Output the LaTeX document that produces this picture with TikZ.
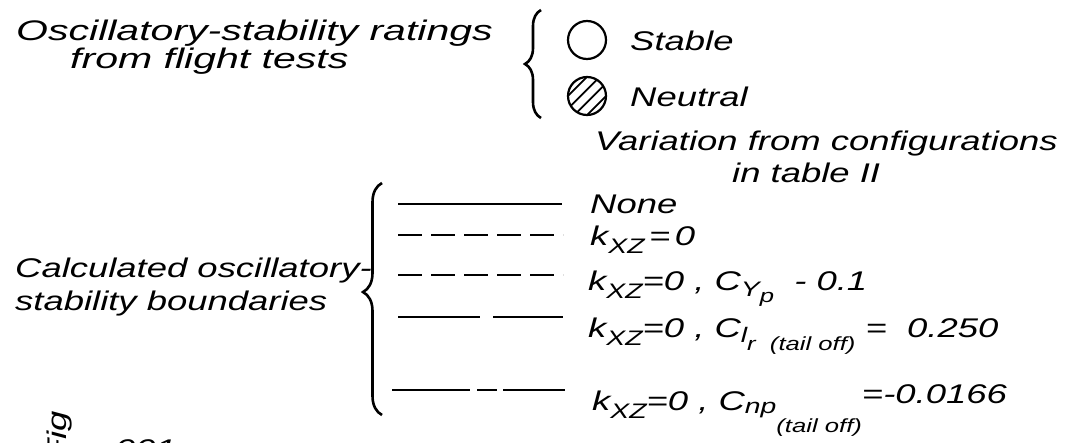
\documentclass[tikz,border=0pt]{standalone}
\usepackage{fontspec}
\newfontfamily\hand{Liberation Sans}[FakeStretch=1.35]
\newfontfamily\handwide{Liberation Sans}[FakeStretch=1.45]
\usetikzlibrary{decorations.pathreplacing,calc}

% lowered pieces of the lettering
\newcommand\lsub[2][-8pt]{\raisebox{#1}{\fontsize{21}{21}\selectfont #2}}
\newcommand\tsub[2][-8pt]{\raisebox{#1}{\fontsize{19}{19}\selectfont #2}}

\tikzset{
  lettering/.style={inner sep=0pt, anchor=base west,
    font=\hand\itshape\fontsize{27}{30}\selectfont},
  heading/.style={lettering, font=\handwide\itshape\fontsize{28.3}{32}\selectfont},
  bracket/.style={decorate, decoration={brace, amplitude=#1}, line width=2.6pt},
  bracket/.default=16pt,
  bound/.style={line width=2.4pt},
  rating/.style={line width=2.2pt},
}

\begin{document}
\begin{tikzpicture}[x=1pt,y=-1pt]
\useasboundingbox (0,0) rectangle (1079,442);
% ---------- flight-test ratings ----------
\node[heading] (rate1) at (16,40) {Oscillatory-stability ratings};
\node[heading] (rate2) at (70,68) {from flight tests};
\draw[bracket] (541,118) -- (541,10);
% open and hatched circles
\coordinate (cs) at (587,40);
\coordinate (cn) at (587,96);
\draw[rating] (cs) circle (19);
\begin{scope}
\clip (cn) circle (19);
\foreach \d in {-13.5,-4.5,4.5,13.5}
  \draw[line width=1.8pt] ($(cn)+(\d*0.707-30,\d*0.707+30)$) -- ++(60,-60);
\end{scope}
\draw[rating] (cn) circle (19);
\node[lettering] (stable) at (630,50) {Stable};
\node[lettering] (neutral) at (630,106) {Neutral};
% ---------- calculated boundaries ----------
\node[lettering] (var1) at (595,150) {Variation from configurations};
\node[lettering] (var2) at (732,182) {in table II};
\node[lettering] (calc1) at (15,277) {Calculated oscillatory-};
\node[lettering] (calc2) at (15,310) {stability boundaries};
\draw[bracket=19pt,decoration={aspect=0.53}] (382,415) -- (382,183);
% line samples, one per row
\draw[bound] (398,204) -- (562,204);
\draw[bound,dash pattern=on 24pt off 9pt] (398,235) -- (563,235);
\draw[bound,dash pattern=on 24pt off 9pt] (398,275) -- (563,275);
\draw[bound,dash pattern=on 82pt off 13pt] (398,317) -- (563,317);
\draw[bound,dash pattern=on 78pt off 7pt on 20pt off 6pt on 70pt] (392,390) -- (565,390);
% row labels
\node[lettering] (none) at (590,213) {None};
\node[lettering] (row2) at (590,245) {k\lsub{XZ}\,=\,0};
\node[lettering] (row3) at (588,290) {k\lsub{XZ}=0 ,\ C\lsub[-6pt]{Y\tsub[-6pt]{p}}\ \ - 0.1};
\node[lettering] (row4) at (588,337)
  {k\lsub{XZ}=0 ,\ C\lsub[-5pt]{l}\tsub[-13pt]{r\ \ (tail off)}\ = \ 0.250};
\node[lettering] (row5) at (592,410)
  {k\lsub{XZ}=0 ,\ C\lsub[-3pt]{np}\tsub[-22pt]{(tail off)}\raisebox{7pt}{=-0.0166}};
% cut-off figure number
\node[lettering, rotate=90] (fig) at (66,462) {Fig};
\node[lettering] (fignum) at (115,458) {001};
\end{tikzpicture}
\end{document}
